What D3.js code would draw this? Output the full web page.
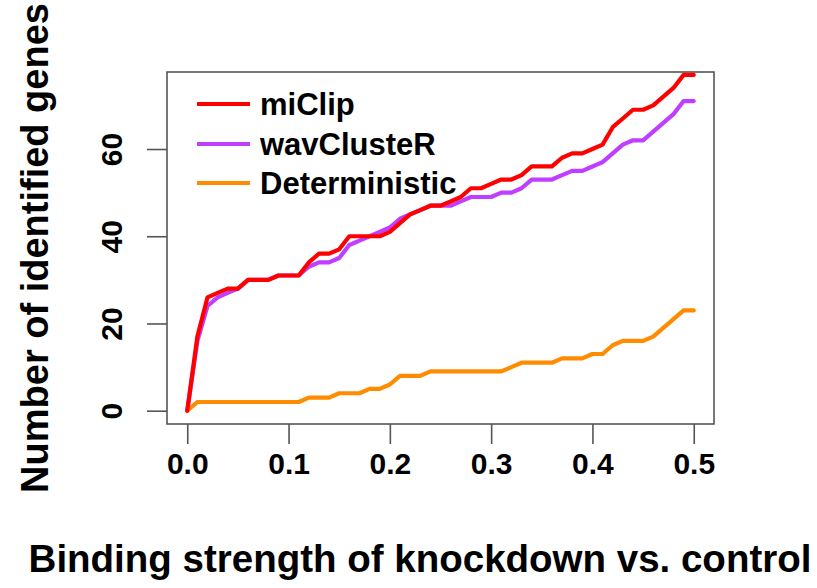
<!DOCTYPE html>
<html>
<head>
<meta charset="utf-8">
<script src="https://cdn.jsdelivr.net/npm/d3@7"></script>
<style>
  html, body { margin: 0; padding: 0; background: #fff; }
  svg { display: block; }
  text { font-family: "Liberation Sans", Arial, Helvetica, sans-serif; font-weight: bold; fill: #000; }
</style>
</head>
<body>
<svg id="chart" width="817" height="588"></svg>
<script>
// ---- data ----
const xValues = [0.00,0.01,0.02,0.03,0.04,0.05,0.06,0.07,0.08,0.09,0.10,
                 0.11,0.12,0.13,0.14,0.15,0.16,0.17,0.18,0.19,0.20,
                 0.21,0.22,0.23,0.24,0.25,0.26,0.27,0.28,0.29,0.30,
                 0.31,0.32,0.33,0.34,0.35,0.36,0.37,0.38,0.39,0.40,
                 0.41,0.42,0.43,0.44,0.45,0.46,0.47,0.48,0.49,0.50];
const miClip = [0,17,26,27,28,28,30,30,30,31,31,
                31,34,36,36,37,40,40,40,40,41,
                43,45,46,47,47,48,49,51,51,52,
                53,53,54,56,56,56,58,59,59,60,
                61,65,67,69,69,70,72,74,77,77];
const wavClusteR = [0,16,24,26,27,28,30,30,30,31,31,
                    31,33,34,34,35,38,39,40,41,42,
                    44,45,46,47,47,47,48,49,49,49,
                    50,50,51,53,53,53,54,55,55,56,
                    57,59,61,62,62,64,66,68,71,71];
const deterministic = [0,2,2,2,2,2,2,2,2,2,2,
                       2,3,3,3,4,4,4,5,5,6,
                       8,8,8,9,9,9,9,9,9,9,
                       9,10,11,11,11,11,12,12,12,13,
                       13,15,16,16,16,17,19,21,23,23];
const seriesNames = ["miClip", "wavClusteR", "Deterministic"];
const seriesColors = ["#FF0000", "#BF3EFF", "#FF8C00"];
const xTicks = [0.0, 0.1, 0.2, 0.3, 0.4, 0.5];
const yTicks = [0, 20, 40, 60];
const xLabel = "Binding strength of knockdown vs. control";
const yLabel = "Number of identified genes";

// ---- layout ----
const svg = d3.select("#chart");
const pLeft = 167, pRight = 714, pTop = 72, pBottom = 424;
const x = d3.scaleLinear().domain([-0.02, 0.52]).range([pLeft, pRight]);
const y = d3.scaleLinear().domain([-3.05, 77.66]).range([pBottom, pTop]);

// box
svg.append("rect")
  .attr("x", pLeft).attr("y", pTop)
  .attr("width", pRight - pLeft).attr("height", pBottom - pTop)
  .attr("fill", "none").attr("stroke", "#555").attr("stroke-width", 1.6);

// x axis
const xAxis = d3.axisBottom(x).tickValues(xTicks).tickFormat(d3.format(".1f"))
  .tickSize(20).tickPadding(9);
const gx = svg.append("g").attr("transform", `translate(0,${pBottom})`).call(xAxis);
gx.select(".domain").remove();
gx.selectAll("line").attr("stroke", "#555").attr("stroke-width", 1.6);
gx.selectAll("text").attr("font-size", 30)
  .style("font-family", "'Liberation Sans', Arial, sans-serif").style("font-weight", "bold");

// y axis
const yAxis = d3.axisLeft(y).tickValues(yTicks).tickSize(20).tickPadding(8);
const gy = svg.append("g").attr("transform", `translate(${pLeft},0)`).call(yAxis);
gy.select(".domain").remove();
gy.selectAll("line").attr("stroke", "#555").attr("stroke-width", 1.6);
gy.selectAll("text")
  .attr("font-size", 30)
  .style("font-family", "'Liberation Sans', Arial, sans-serif").style("font-weight", "bold")
  .attr("text-anchor", "middle")
  .attr("x", 0).attr("y", 0).attr("dy", null)
  .attr("transform", "translate(-45,0) rotate(-90)");

// lines
const line = d3.line().x((d, i) => x(xValues[i])).y(d => y(d));
const drawOrder = [1, 2, 0];
const allSeries = [miClip, wavClusteR, deterministic];
drawOrder.forEach(k => {
  svg.append("path")
    .datum(allSeries[k])
    .attr("d", line)
    .attr("fill", "none")
    .attr("stroke", seriesColors[k])
    .attr("stroke-width", 4.2)
    .attr("stroke-linejoin", "round")
    .attr("stroke-linecap", "round");
});

// legend
const legY = [104, 144, 183];
seriesNames.forEach((name, k) => {
  svg.append("line")
    .attr("x1", 197).attr("x2", 250)
    .attr("y1", legY[k]).attr("y2", legY[k])
    .attr("stroke", seriesColors[k]).attr("stroke-width", 4.2);
  svg.append("text")
    .attr("x", 260).attr("y", legY[k] + 11)
    .attr("font-size", 31)
    .text(name);
});

// axis titles
svg.append("text")
  .attr("x", 420).attr("y", 572)
  .attr("text-anchor", "middle")
  .attr("font-size", 38.5)
  .text(xLabel);
svg.append("text")
  .attr("transform", `translate(48,${(pTop + pBottom) / 2}) rotate(-90)`)
  .attr("text-anchor", "middle")
  .attr("font-size", 38)
  .text(yLabel);
</script>
</body>
</html>
